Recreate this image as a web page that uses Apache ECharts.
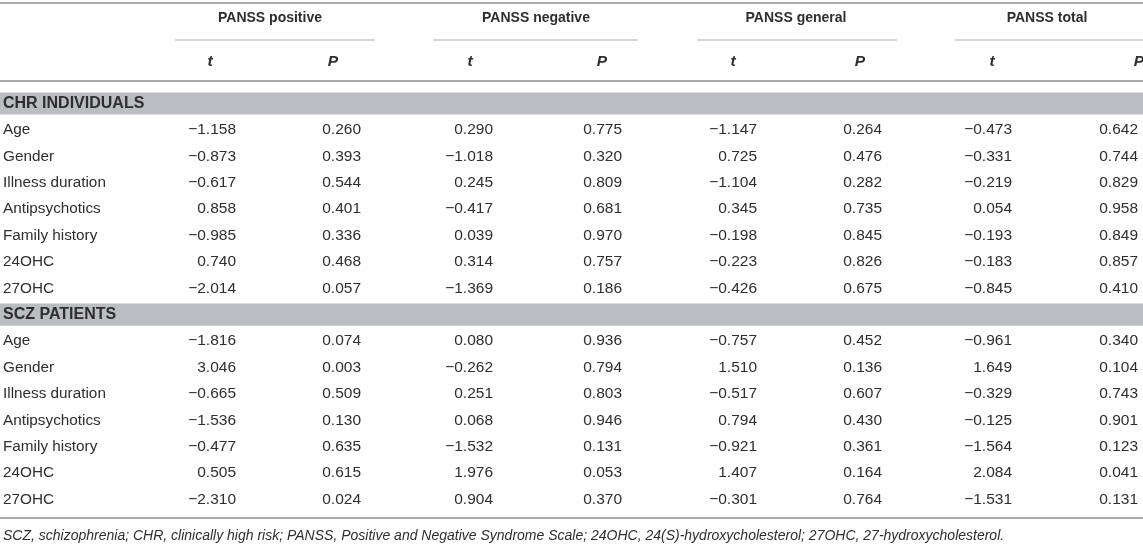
<!DOCTYPE html>
<html>
<head>
<meta charset="utf-8">
<script src="https://cdn.jsdelivr.net/npm/echarts@6/dist/echarts.min.js"></script>
<style>html,body{margin:0;padding:0;background:#fff;}#chart{width:1143px;height:548px;}</style>
</head>
<body>
<div id="chart"></div>
<script>
// ---- data ----
const groups = ['PANSS positive', 'PANSS negative', 'PANSS general', 'PANSS total'];
const statHeaders = ['t', 'P'];
const sections = ['CHR INDIVIDUALS', 'SCZ PATIENTS'];
const variables = ['Age', 'Gender', 'Illness duration', 'Antipsychotics', 'Family history', '24OHC', '27OHC'];

const chrPositiveT = [-1.158, -0.873, -0.617, 0.858, -0.985, 0.740, -2.014];
const chrPositiveP = [0.260, 0.393, 0.544, 0.401, 0.336, 0.468, 0.057];
const chrNegativeT = [0.290, -1.018, 0.245, -0.417, 0.039, 0.314, -1.369];
const chrNegativeP = [0.775, 0.320, 0.809, 0.681, 0.970, 0.757, 0.186];
const chrGeneralT = [-1.147, 0.725, -1.104, 0.345, -0.198, -0.223, -0.426];
const chrGeneralP = [0.264, 0.476, 0.282, 0.735, 0.845, 0.826, 0.675];
const chrTotalT = [-0.473, -0.331, -0.219, 0.054, -0.193, -0.183, -0.845];
const chrTotalP = [0.642, 0.744, 0.829, 0.958, 0.849, 0.857, 0.410];

const sczPositiveT = [-1.816, 3.046, -0.665, -1.536, -0.477, 0.505, -2.310];
const sczPositiveP = [0.074, 0.003, 0.509, 0.130, 0.635, 0.615, 0.024];
const sczNegativeT = [0.080, -0.262, 0.251, 0.068, -1.532, 1.976, 0.904];
const sczNegativeP = [0.936, 0.794, 0.803, 0.946, 0.131, 0.053, 0.370];
const sczGeneralT = [-0.757, 1.510, -0.517, 0.794, -0.921, 1.407, -0.301];
const sczGeneralP = [0.452, 0.136, 0.607, 0.430, 0.361, 0.164, 0.764];
const sczTotalT = [-0.961, 1.649, -0.329, -0.125, -1.564, 2.084, -1.531];
const sczTotalP = [0.340, 0.104, 0.743, 0.901, 0.123, 0.041, 0.131];

const footnote = 'SCZ, schizophrenia; CHR, clinically high risk; PANSS, Positive and Negative Syndrome Scale; 24OHC, 24(S)-hydroxycholesterol; 27OHC, 27-hydroxycholesterol.';

// ---- layout (axis units: x in table width units, y in row units) ----
const colRight = [236, 361, 493, 622, 757, 882, 1012, 1138];
const hdrCenter = [210, 333, 470, 602, 733, 860, 992, 1139];
const groupCenter = [270, 536, 796, 1047];
const groupLine = [[175, 375], [433, 638], [697, 897], [955, 1143]];
const labelX = 3;
const ROW_PX = 26.4, ROW0_PX = 103.5, H = 548;
const yMin = -ROW0_PX / ROW_PX, yMax = yMin + H / ROW_PX;
const toRow = px => (px - ROW0_PX) / ROW_PX;

const sectionData = [
  [chrPositiveT, chrPositiveP, chrNegativeT, chrNegativeP, chrGeneralT, chrGeneralP, chrTotalT, chrTotalP],
  [sczPositiveT, sczPositiveP, sczNegativeT, sczNegativeP, sczGeneralT, sczGeneralP, sczTotalT, sczTotalP]
];

const TXT = '#2e2e2e';
const FONT = '"Liberation Sans", Arial, Helvetica, sans-serif';
const fmt = v => (v < 0 ? '\u2212' : '') + Math.abs(v).toFixed(3);

// text items
const texts = [];
groups.forEach((g, i) => texts.push({ x: groupCenter[i], y: toRow(18), text: g, align: 'center', font: 'bold 14px ' + FONT }));
for (let c = 0; c < 8; c++) {
  texts.push({ x: hdrCenter[c], y: toRow(62), text: statHeaders[c % 2], align: 'center', font: 'italic bold 15.5px ' + FONT });
}
const bands = [];
sections.forEach((s, si) => {
  const base = si * 8;
  bands.push(base);
  texts.push({ x: labelX, y: base, text: s, align: 'left', font: 'bold 16px ' + FONT });
  variables.forEach((v, vi) => {
    const r = base + 1 + vi;
    texts.push({ x: labelX, y: r, text: v, align: 'left', font: '15.3px ' + FONT });
    sectionData[si].forEach((arr, c) => {
      texts.push({ x: colRight[c], y: r, text: fmt(arr[vi]), align: 'right', font: '15.5px ' + FONT });
    });
  });
});
texts.push({ x: labelX, y: toRow(536), text: footnote, align: 'left', font: 'italic 14px ' + FONT });

// rules
const rules = [
  { x1: 0, x2: 1143, y: toRow(3), w: 2 },
  { x1: 0, x2: 1143, y: toRow(81), w: 2 },
  { x1: 0, x2: 1143, y: toRow(518), w: 2 }
];
groupLine.forEach(l => rules.push({ x1: l[0], x2: l[1], y: toRow(40), w: 1 }));

const chart = echarts.init(document.getElementById('chart'));
chart.setOption({
  animation: false,
  grid: { left: 0, right: 0, top: 0, bottom: 0 },
  xAxis: { type: 'value', min: 0, max: 1143, show: false },
  yAxis: { type: 'value', min: yMin, max: yMax, inverse: true, show: false },
  series: [
    {
      type: 'custom',
      data: bands.map(r => [0, r]),
      renderItem: (params, api) => {
        const p0 = api.coord([0, api.value(1)]);
        const p1 = api.coord([1143, api.value(1)]);
        const h = api.size([0, 0.84])[1];
        return { type: 'rect', shape: { x: p0[0], y: p0[1] - h / 2, width: p1[0] - p0[0], height: h }, style: { fill: '#bcbdc0' } };
      }
    },
    {
      type: 'custom',
      data: rules.map(r => [r.x1, r.y, r.x2]),
      renderItem: (params, api) => {
        const r = rules[params.dataIndex];
        const a = api.coord([api.value(0), api.value(1)]);
        const b = api.coord([api.value(2), api.value(1)]);
        return { type: 'line', shape: { x1: a[0], y1: a[1], x2: b[0], y2: b[1] }, style: { stroke: '#a9abae', lineWidth: r.w } };
      }
    },
    {
      type: 'custom',
      data: texts.map(t => [t.x, t.y]),
      renderItem: (params, api) => {
        const t = texts[params.dataIndex];
        const p = api.coord([api.value(0), api.value(1)]);
        return { type: 'text', style: { text: t.text, x: p[0], y: p[1], align: t.align, verticalAlign: 'middle', font: t.font, fill: TXT } };
      }
    }
  ]
});
</script>
</body>
</html>
